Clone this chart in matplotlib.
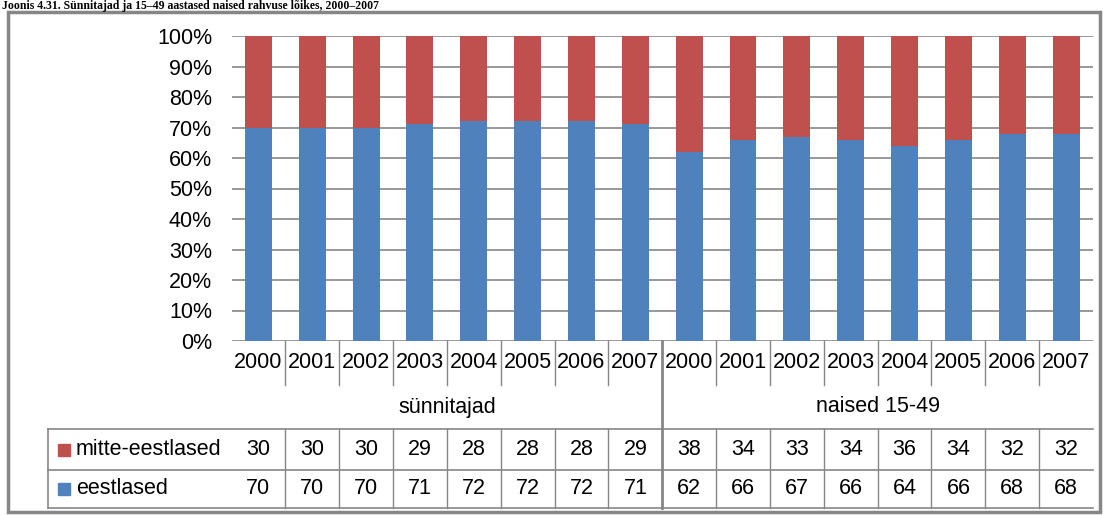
"""
100% stacked bars: Estonians vs non-Estonians among mothers and women 15-49.
"""

import matplotlib.pyplot as plt
import matplotlib.transforms as mtransforms
from matplotlib.lines import Line2D
from matplotlib.patches import Rectangle

plt.rcParams['font.family'] = ['Liberation Sans', 'DejaVu Sans']

# Data
years = ['2000', '2001', '2002', '2003', '2004', '2005', '2006', '2007'] * 2
groups = ['sünnitajad', 'naised 15-49']
eestlased = [70, 70, 70, 71, 72, 72, 72, 71, 62, 66, 67, 66, 64, 66, 68, 68]
mitte_eestlased = [30, 30, 30, 29, 28, 28, 28, 29, 38, 34, 33, 34, 36, 34, 32, 32]
title = 'Joonis 4.31. Sünnitajad ja 15–49 aastased naised rahvuse lõikes, 2000–2007'

blue = '#4F81BD'
red = '#C0504D'
grey = '#868686'
W, H = 1105, 515
FS = 15.5


def fy(y):
    # pixel row -> figure fraction
    return 1 - y / H


fig = plt.figure(figsize=(W / 100, H / 100), dpi=100)
ax = fig.add_axes([231.5 / W, fy(341), (1093 - 231.5) / W, 305 / H])

n = len(eestlased)
x = list(range(n))
total = [a + b for a, b in zip(eestlased, mitte_eestlased)]
share_e = [100 * a / t for a, t in zip(eestlased, total)]
share_m = [100 * b / t for b, t in zip(mitte_eestlased, total)]

ax.bar(x, share_e, width=0.5, color=blue, zorder=2)
ax.bar(x, share_m, width=0.5, bottom=share_e, color=red, zorder=2)

ax.set_xlim(-0.5, n - 0.5)
ax.set_ylim(0, 100)
ax.set_yticks(range(0, 101, 10))
ax.set_yticklabels([f'{v}%' for v in range(0, 101, 10)], fontsize=FS)
ax.set_xticks([])
ax.tick_params(axis='y', length=0, pad=14)
ax.grid(axis='y', color=grey, lw=1.2, zorder=0)
for s in ax.spines.values():
    s.set_visible(False)

# x in data units, y in figure fraction
tr = mtransforms.blended_transform_factory(ax.transData, fig.transFigure)
ftr = fig.transFigure

# category labels and separators
for i, yr in enumerate(years):
    fig.text(i, fy(362), yr, transform=tr, ha='center', va='center', fontsize=FS)
for i in range(n - 1):
    if i == 7:
        fig.add_artist(Line2D([i + 0.5, i + 0.5], [fy(341), fy(508)], transform=tr,
                              color=grey, lw=2))
    else:
        fig.add_artist(Line2D([i + 0.5, i + 0.5], [fy(341), fy(385)], transform=tr,
                              color=grey, lw=1))
        fig.add_artist(Line2D([i + 0.5, i + 0.5], [fy(429), fy(508)], transform=tr,
                              color=grey, lw=1))

for g, name in enumerate(groups):
    fig.text(g * 8 + 3.5, fy(407), name, transform=tr, ha='center', va='center', fontsize=FS)

# data table
for yy in (429, 470, 508):
    fig.add_artist(Line2D([48 / W, 1093 / W], [fy(yy), fy(yy)], transform=ftr,
                          color=grey, lw=1.2))
fig.add_artist(Line2D([48 / W, 48 / W], [fy(429), fy(508)], transform=ftr,
                      color=grey, lw=1.2))

rows = [('mitte-eestlased', mitte_eestlased, red, 449.5),
        ('eestlased', eestlased, blue, 489)]
for label, vals, col, yc in rows:
    fig.add_artist(Rectangle((58 / W, fy(yc + 6)), 12 / W, 12 / H, transform=ftr,
                             color=col))
    fig.text(76 / W, fy(yc), label, ha='left', va='center', fontsize=FS)
    for i, v in enumerate(vals):
        fig.text(i, fy(yc), str(v), transform=tr, ha='center', va='center', fontsize=FS)

# outer frame
fig.add_artist(Rectangle((8 / W, fy(512)), 1092 / W, 500 / H, transform=ftr,
                         fill=False, edgecolor=grey, lw=2.5))

# title, squeezed into the strip above the frame
fig.text(2 / W, fy(8.5), title, ha='left', va='baseline', fontsize=8.5,
         fontweight='bold', family='Liberation Serif')

fig.savefig('out.png', dpi=100)
